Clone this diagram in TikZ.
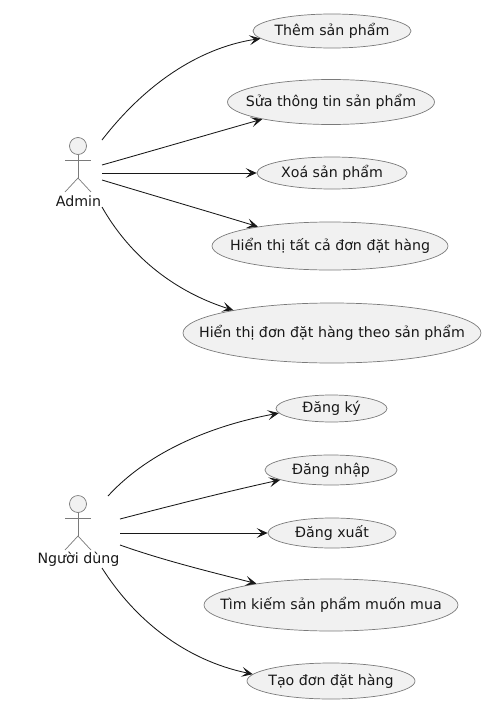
\documentclass[tikz,border=0pt]{standalone}
\usepackage{fontspec}
\setmainfont{DejaVu Sans}
\usetikzlibrary{arrows.meta,calc,shapes.geometric}
\definecolor{ink}{HTML}{181818}
\definecolor{casefill}{HTML}{F1F1F1}
\definecolor{edgegray}{HTML}{7A7A7A}
\tikzset{
  font=\fontsize{14.2}{16}\selectfont,
  >={Stealth[length=3.9mm,width=3.5mm,inset=1.8mm]},
  flow/.style={draw=ink, line width=.85pt, ->},
  usecase/.style={ellipse, draw=edgegray, fill=casefill, line width=.7pt,
    inner xsep=-60pt, inner ysep=-6pt, text=ink},
  actorhead/.style={circle, draw=edgegray, fill=casefill, line width=.7pt,
    inner sep=0pt, minimum size=17pt},
  actorline/.style={draw=edgegray, line width=.7pt},
  actorname/.style={text=ink, inner sep=0pt}
}
\newcommand{\ActorIcon}[3]{%
  \node[actorhead] (#1head) at #2 {};
  \coordinate (#1hip) at ($(#1head.center)+(0,32)$);
  \draw[actorline] (#1head.south) -- (#1hip);
  \draw[actorline] ($(#1head.center)+(-13,14)$) -- ($(#1head.center)+(13,14)$);
  \draw[actorline] ($(#1hip)+(-13,14)$) -- (#1hip) -- ($(#1hip)+(13,14)$);
  \node[actorname] (#1name) at ($(#1head.center)+(0.5,55)$) {#3};
}
\begin{document}
\begin{tikzpicture}[x=1pt,y=-1pt]
  \useasboundingbox (0,0) rectangle (501,720);

  % Admin
  \ActorIcon{admin}{(78,146)}{Admin}
  \node[usecase, minimum width=158pt, minimum height=34pt] (addprod) at (332,31) {Thêm sản phẩm};
  \node[usecase, minimum width=207pt, minimum height=45pt] (editprod) at (331,102) {Sửa thông tin sản phẩm};
  \node[usecase, minimum width=150pt, minimum height=32pt] (delprod) at (332,173) {Xoá sản phẩm};
  \node[usecase, minimum width=236pt, minimum height=48pt] (allorders) at (330,246) {Hiển thị tất cả đơn đặt hàng};
  \node[usecase, minimum width=298pt, minimum height=60pt] (prodorders) at (332,333) {Hiển thị đơn đặt hàng theo sản phẩm};

  \coordinate (adminA) at (102,140);
  \coordinate (adminB) at (102,165);
  \coordinate (adminC) at (102,173);
  \coordinate (adminD) at (102,180);
  \coordinate (adminE) at (102,207);
  \draw[flow] (adminA) .. controls (150,78) and (205,47) .. (addprod.186);
  \draw[flow] (adminB) .. controls (155,150) and (210,134) .. (editprod.194);
  \draw[flow] (adminC) -- (delprod.west);
  \draw[flow] (adminD) .. controls (155,196) and (210,212) .. (allorders.165);
  \draw[flow] (adminE) .. controls (135,265) and (185,295) .. (prodorders.167);

  % Nguoi dung
  \ActorIcon{user}{(78,504)}{Người dùng}
  \node[usecase, minimum width=111pt, minimum height=27pt] (signup) at (331.5,408.5) {Đăng ký\hspace{6pt}};
  \node[usecase, minimum width=132pt, minimum height=30pt] (login) at (331,470) {Đăng nhập};
  \node[usecase, minimum width=128pt, minimum height=30pt] (logout) at (332,533) {Đăng xuất};
  \node[usecase, minimum width=254pt, minimum height=52pt] (search) at (331,605) {Tìm kiếm sản phẩm muốn mua};
  \node[usecase, minimum width=168pt, minimum height=36pt] (neworder) at (331,681) {Tạo đơn đặt hàng};

  \coordinate (userA) at (108,496);
  \coordinate (userB) at (120,519);
  \coordinate (userC) at (120,533);
  \coordinate (userD) at (120,545);
  \coordinate (userE) at (102,568);
  \draw[flow] (userA) .. controls (150,450) and (215,425) .. (signup.185);
  \draw[flow] (userB) .. controls (170,506) and (225,492) .. (login.191);
  \draw[flow] (userC) -- (logout.west);
  \draw[flow] (userD) .. controls (165,561) and (215,573) .. (search.164);
  \draw[flow] (userE) .. controls (135,620) and (185,660) .. (neworder.175);
\end{tikzpicture}
\end{document}
